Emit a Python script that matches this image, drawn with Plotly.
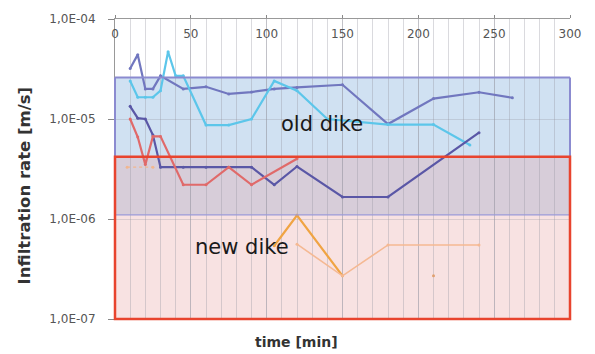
import numpy as np
import plotly.graph_objects as go

# Infiltration measurements: time [min] and rate [m/s]
t_old_a = [10, 15, 20, 25, 30, 45, 60, 75, 90, 105, 120, 150, 180, 210, 240, 262]
k_old_a = [3.2e-5, 4.4e-5, 2.0e-5, 2.0e-5, 2.7e-5, 2.0e-5, 2.1e-5, 1.78e-5, 1.86e-5,
           2.0e-5, 2.07e-5, 2.2e-5, 8.9e-6, 1.6e-5, 1.85e-5, 1.63e-5]

t_old_b = [10, 15, 20, 25, 30, 35, 40, 45, 60, 75, 90, 105, 120, 140, 180, 210, 234]
k_old_b = [2.4e-5, 1.65e-5, 1.65e-5, 1.65e-5, 1.92e-5, 4.7e-5, 2.7e-5, 2.7e-5, 8.7e-6,
           8.7e-6, 1.0e-5, 2.4e-5, 1.92e-5, 1.0e-5, 8.8e-6, 8.8e-6, 5.5e-6]

t_old_c = [10, 15, 20, 25, 30, 45, 60, 75, 90, 105, 120, 150, 180, 240]
k_old_c = [1.34e-5, 1.02e-5, 1.0e-5, 6.9e-6, 3.3e-6, 3.3e-6, 3.3e-6, 3.3e-6, 3.3e-6,
           2.2e-6, 3.35e-6, 1.66e-6, 1.66e-6, 7.3e-6]

t_red = [10, 15, 20, 25, 30, 45, 60, 75, 90, 120]
k_red = [1.0e-5, 6.6e-6, 3.5e-6, 6.7e-6, 6.7e-6, 2.2e-6, 2.2e-6, 3.3e-6, 2.2e-6, 4.0e-6]

t_new_a = [105, 120, 150]
k_new_a = [5.4e-7, 1.09e-6, 2.7e-7]

t_new_b = [120, 150, 180, 240]
k_new_b = [5.6e-7, 2.7e-7, 5.5e-7, 5.5e-7]

t_new_c = [210]
k_new_c = [2.7e-7]

t_new_d = [8, 25]
k_new_d = [3.3e-6, 3.3e-6]

# Ranges of the two dike types [m/s]
old_dike_range = [1.1e-6, 2.6e-5]
new_dike_range = [1.0e-7, 4.2e-6]

x_ticks = [0, 50, 100, 150, 200, 250, 300]
y_ticks = [1e-7, 1e-6, 1e-5, 1e-4]
y_tick_text = ["1,0E-07", "1,0E-06", "1,0E-05", "1,0E-04"]

Y_LOG_MIN, Y_LOG_MAX = -7, -4
FONT = "DejaVu Sans"


def to_paper(v):
    return (np.log10(v) - Y_LOG_MIN) / (Y_LOG_MAX - Y_LOG_MIN)


fig = go.Figure()

series = [
    (t_old_a, k_old_a, "#7177bf", 2.2, "solid"),
    (t_old_b, k_old_b, "#5cc6ea", 2.2, "solid"),
    (t_old_c, k_old_c, "#5a57a6", 2.2, "solid"),
    (t_red, k_red, "#e06a6a", 2.2, "solid"),
    (t_new_a, k_new_a, "#f0a443", 2.2, "solid"),
    (t_new_b, k_new_b, "#f5b993", 1.6, "solid"),
    (t_new_d, k_new_d, "#f2b68e", 1.2, "dot"),
]
for t, k, color, w, dash in series:
    fig.add_trace(go.Scatter(
        x=t, y=k, mode="lines+markers",
        line=dict(color=color, width=w, dash=dash),
        marker=dict(color=color, size=3),
        showlegend=False, hoverinfo="skip",
    ))

fig.add_trace(go.Scatter(
    x=t_new_c, y=k_new_c, mode="markers",
    marker=dict(color="#e0a070", size=3),
    showlegend=False, hoverinfo="skip",
))

ob0, ob1 = to_paper(old_dike_range[0]), to_paper(old_dike_range[1])
nb0, nb1 = to_paper(new_dike_range[0]), to_paper(new_dike_range[1])

shapes = [
    # fills
    dict(type="rect", xref="paper", yref="paper", x0=0, x1=1, y0=ob0, y1=ob1,
         fillcolor="#d0e1f2", line=dict(width=0), layer="below"),
    dict(type="rect", xref="paper", yref="paper", x0=0, x1=1, y0=nb0, y1=nb1,
         fillcolor="rgba(232,161,161,0.31)", line=dict(width=0), layer="below"),
    # borders
    dict(type="line", xref="paper", yref="paper", x0=0, x1=1, y0=ob1, y1=ob1,
         line=dict(color="#8b8bd0", width=2), layer="above"),
    dict(type="line", xref="paper", yref="paper", x0=0, x1=1, y0=ob0, y1=ob0,
         line=dict(color="#9a9ad8", width=1.3), layer="above"),
    dict(type="line", xref="paper", yref="paper", x0=0, x1=0, y0=ob0, y1=ob1,
         line=dict(color="#8b8bd0", width=2), layer="above"),
    dict(type="line", xref="paper", yref="paper", x0=1, x1=1, y0=ob0, y1=ob1,
         line=dict(color="#8b8bd0", width=2), layer="above"),
    dict(type="rect", xref="paper", yref="paper", x0=0, x1=1, y0=nb0, y1=nb1,
         fillcolor="rgba(0,0,0,0)", line=dict(color="#e8442e", width=2.5), layer="above"),
]

annotations = [
    dict(text="old dike", x=136.5, y=np.log10(8.9e-6), xref="x", yref="y",
         showarrow=False, font=dict(family=FONT, size=21, color="#1a1a1a")),
    dict(text="new dike", x=83.5, y=np.log10(5.2e-7), xref="x", yref="y",
         showarrow=False, font=dict(family=FONT, size=21, color="#1a1a1a")),
    dict(text="<b>time [min]</b>", x=0.398, y=-0.076, xref="paper", yref="paper",
         xanchor="center", yanchor="middle",
         showarrow=False, font=dict(family=FONT, size=14, color="#333333")),
    dict(text="<b>Infiltration rate [m/s]</b>", x=-0.198, y=0.445, xref="paper", yref="paper",
         xanchor="center", yanchor="middle",
         showarrow=False, textangle=-90, font=dict(family=FONT, size=16.5, color="#333333")),
]

fig.update_layout(
    width=595, height=354,
    margin=dict(l=115, r=25, t=16, b=35),
    paper_bgcolor="white", plot_bgcolor="white",
    shapes=shapes, annotations=annotations,
    font=dict(family=FONT, size=12, color="#555555"),
    xaxis=dict(
        range=[0, 300], side="top", tickvals=x_ticks,
        ticklabelposition="inside", ticklabeloverflow="allow",
        ticklabelstandoff=10,
        ticks="outside", ticklen=3, tickcolor="#888888",
        showline=True, linecolor="#999999", linewidth=1,
        showgrid=True, gridcolor="rgba(150,150,160,0.35)", gridwidth=1,
        minor=dict(dtick=10, showgrid=True, gridcolor="rgba(150,150,160,0.35)", gridwidth=1),
        zeroline=False,
        tickfont=dict(family=FONT, size=12, color="#555555"),
    ),
    yaxis=dict(
        type="log", range=[Y_LOG_MIN, Y_LOG_MAX],
        tickvals=y_ticks, ticktext=y_tick_text,
        ticks="outside", ticklen=6, tickcolor="#888888",
        ticklabelstandoff=10,
        showline=True, linecolor="#999999", linewidth=1,
        showgrid=True, gridcolor="rgba(150,150,160,0.3)", gridwidth=1,
        zeroline=False,
        tickfont=dict(family=FONT, size=12, color="#555555"),
    ),
)

fig.write_html("out.html")
